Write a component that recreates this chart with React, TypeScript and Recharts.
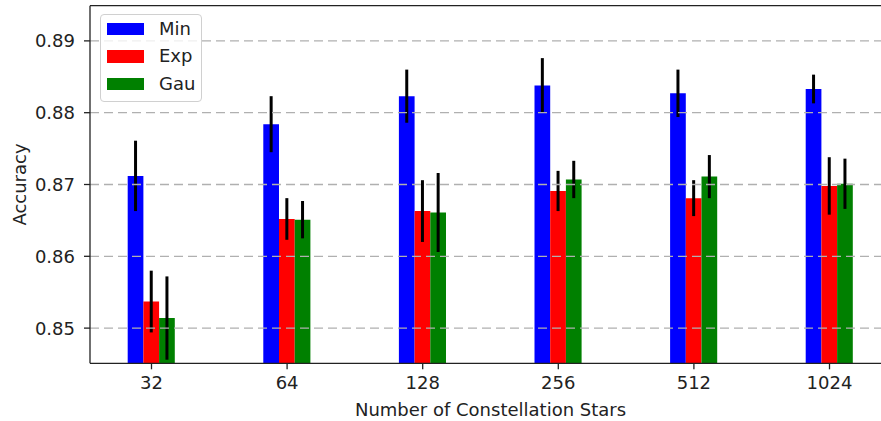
import { BarChart, Bar, XAxis, YAxis, ErrorBar, Legend, ReferenceLine, Label } from "recharts";

const stars = ["32", "64", "128", "256", "512", "1024"];
const minAcc = [0.8712, 0.8784, 0.8823, 0.8838, 0.8827, 0.8833];
const minErr = [0.0049, 0.0039, 0.0037, 0.0038, 0.0033, 0.002];
const expAcc = [0.8537, 0.8652, 0.8663, 0.8691, 0.8681, 0.8698];
const expErr = [0.0043, 0.0029, 0.0043, 0.0028, 0.0025, 0.004];
const gauAcc = [0.8514, 0.8651, 0.8661, 0.8707, 0.8711, 0.8701];
const gauErr = [0.0058, 0.0026, 0.0055, 0.0026, 0.003, 0.0035];
const yTicks = [0.85, 0.86, 0.87, 0.88, 0.89];

const yMin = 0.8451;
const yMax = 0.8949;

const data = stars.map((s, i) => ({
  idx: i,
  label: s,
  Min: minAcc[i],
  minErr: minErr[i],
  Exp: expAcc[i],
  expErr: expErr[i],
  Gau: gauAcc[i],
  gauErr: gauErr[i],
}));

const series = [
  { key: "Min", err: "minErr", color: "#0000ff" },
  { key: "Exp", err: "expErr", color: "#ff0000" },
  { key: "Gau", err: "gauErr", color: "#008000" },
];

const font = { fontFamily: "DejaVu Sans", fontSize: 18, fill: "#222" };

const LegendBox = () => (
  <div
    style={{
      width: 102,
      height: 88,
      boxSizing: "border-box",
      border: "1px solid #d0d0d0",
      borderRadius: 4,
      background: "rgba(255,255,255,0.8)",
      fontFamily: "DejaVu Sans",
      fontSize: 18,
      color: "#222",
    }}
  >
    {series.map((s) => (
      <div key={s.key} style={{ display: "flex", alignItems: "center", height: 27.5, paddingLeft: 6 }}>
        <span style={{ display: "inline-block", width: 37, height: 12.5, background: s.color }} />
        <span style={{ marginLeft: 15, lineHeight: 1 }}>{s.key}</span>
      </div>
    ))}
  </div>
);

const App = () => {
  return (
    <div style={{ position: "absolute", left: 0, top: 0, width: 881, height: 421, overflow: "hidden", background: "#fff" }}>
      <BarChart
        width={900}
        height={421}
        data={data}
        margin={{ top: 5.7, right: 9, bottom: 0, left: 0 }}
        barSize={15.7}
        barGap={0}
      >
        <XAxis
          dataKey="idx"
          type="number"
          domain={[-0.4535, 5.4535]}
          ticks={[0, 1, 2, 3, 4, 5]}
          tickFormatter={(v) => stars[v]}
          allowDataOverflow
          height={57.7}
          tickSize={6}
          tickMargin={7}
          tick={font}
          axisLine={{ stroke: "#222", strokeWidth: 1.3 }}
          tickLine={{ stroke: "#222", strokeWidth: 1.3 }}
        >
          <Label value="Number of Constellation Stars" position="insideBottom" offset={5.5} style={font} />
        </XAxis>
        <YAxis
          type="number"
          domain={[yMin, yMax]}
          ticks={yTicks}
          tickFormatter={(v) => v.toFixed(2)}
          allowDataOverflow
          width={90}
          tickSize={6}
          tickMargin={9}
          tick={font}
          axisLine={{ stroke: "#222", strokeWidth: 1.3 }}
          tickLine={{ stroke: "#222", strokeWidth: 1.3 }}
        >
          <Label value="Accuracy" angle={-90} position="insideLeft" offset={20} style={{ ...font, textAnchor: "middle" }} />
        </YAxis>
        {series.map((s) => (
          <Bar key={s.key} dataKey={s.key} fill={s.color} isAnimationActive={false}>
            <ErrorBar dataKey={s.err} width={0} stroke="#000" strokeWidth={3} />
          </Bar>
        ))}
        {yTicks.map((t) => (
          <ReferenceLine key={t} y={t} stroke="#b0b0b0" strokeWidth={1.3} strokeDasharray="9 5" />
        ))}
        <ReferenceLine y={yMax} stroke="#222" strokeWidth={1.3} />
        <Legend
          layout="vertical"
          align="center"
          verticalAlign="middle"
          content={() => <LegendBox />}
          wrapperStyle={{ left: 100, top: 14, width: 102, height: 88 }}
        />
      </BarChart>
    </div>
  );
};

export default App;
